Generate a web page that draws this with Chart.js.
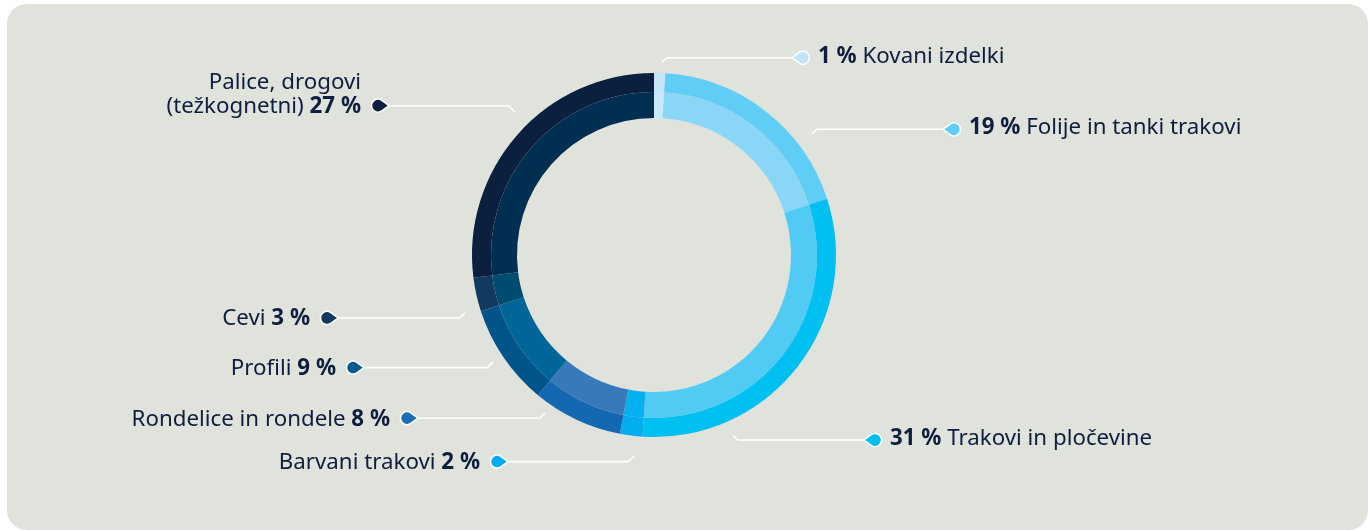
<!DOCTYPE html>
<html>
<head>
<meta charset="utf-8">
<script src="https://cdn.jsdelivr.net/npm/chart.js@4"></script>
<style>
    html, body { margin: 0; padding: 0; background: #ffffff; }
    body { width: 1368px; height: 530px; position: relative; overflow: hidden; }
    .panel { position: absolute; left: 7px; top: 4px; width: 1361px; height: 526px; background: #e0e2dc; border-radius: 20px; }
    .wrap { position: absolute; left: 0; top: 0; width: 1368px; height: 530px; }
</style>
</head>
<body>
<div class="panel"></div>
<div class="wrap"><canvas id="kolobar" width="1368" height="530"></canvas></div>
<script>
// deleži prodaje po skupinah izdelkov (v %)
const kategorije = ['Kovani izdelki', 'Folije in tanki trakovi', 'Trakovi in pločevine', 'Barvani trakovi',
    'Rondelice in rondele', 'Profili', 'Cevi', 'Palice, drogovi (težkognetni)'];
const delezi = [1, 19, 31, 2, 8, 9, 3, 27];

// besedilo napisov (zadnja vrstica dobi še odstotek)
const napisi = [
    ['Kovani izdelki'],
    ['Folije in tanki trakovi'],
    ['Trakovi in pločevine'],
    ['Barvani trakovi'],
    ['Rondelice in rondele'],
    ['Profili'],
    ['Cevi'],
    ['Palice, drogovi', '(težkognetni)']
];

const barveZunaj = ['#c4e6f7', '#5fcdf6', '#00c0f2', '#00aeef', '#1468b1', '#00548a', '#12395e', '#0b1f3f'];
const barveZnotraj = ['#c9e8f8', '#8ad6f7', '#52cbf4', '#05b0ee', '#3779b9', '#006699', '#004c70', '#002f52'];
const barveOznak = ['#bfe5f7', '#5fcdf6', '#00bff0', '#00aeef', '#1a6eb5', '#005a8f', '#123a5f', '#0b1f3f'];

// postavitev napisov: kot (od vrha, v smeri urinega kazalca), odmik od kolobarja, višina črte, sredina oznake
const postavitev = [
    { kot: 2.3,   odmik: 10.6, crtaY: 57.7,  oznakaX: 803, desno: true },
    { kot: 52.6,  odmik: 16.4, crtaY: 129.3, oznakaX: 954, desno: true },
    { kot: 156.3, odmik: 14.8, crtaY: 440,   oznakaX: 875, desno: true },
    { kot: 185.7, odmik: 20,   crtaY: 461.6, oznakaX: 497, desno: false },
    { kot: 214.6, odmik: 10,   crtaY: 418.2, oznakaX: 407, desno: false },
    { kot: 236.4, odmik: 11.6, crtaY: 367.6, oznakaX: 353, desno: false },
    { kot: 253,   odmik: 15.7, crtaY: 318,   oznakaX: 327, desno: false },
    { kot: 315.8, odmik: 17.4, crtaY: 105.7, oznakaX: 378, desno: false }
];

const PISAVA = '22.3px "Noto Sans"';
const PISAVA_B = '700 22.3px "Noto Sans"';
const BARVA_TEKSTA = '#0e1e3e';

function narisiKapljico(ctx, x, y, smer, barva) {
    // kapljica: krog s konico proti črti
    const r = 6.5, d = 11;
    const kot = smer > 0 ? Math.PI : 0; // smer konice
    const a = Math.acos(r / d);
    ctx.beginPath();
    ctx.moveTo(x + Math.cos(kot) * d, y);
    ctx.arc(x, y, r, kot + a, kot - a + Math.PI * 2, false);
    ctx.closePath();
    ctx.fillStyle = barva;
    ctx.fill();
    ctx.lineWidth = 1.5;
    ctx.strokeStyle = '#ffffff';
    ctx.stroke();
}

function narisiVrstico(ctx, deli, x, y, desnoPoravnano) {
    let sirina = 0;
    deli.forEach(d => { ctx.font = d.b ? PISAVA_B : PISAVA; d.w = ctx.measureText(d.t).width; sirina += d.w; });
    let zx = desnoPoravnano ? x - sirina : x;
    deli.forEach(d => {
        ctx.font = d.b ? PISAVA_B : PISAVA;
        ctx.fillText(d.t, zx, y);
        zx += d.w;
    });
}

const napisiPlugin = {
    id: 'napisi',
    afterDraw(chart) {
        const ctx = chart.ctx;
        const lok = chart.getDatasetMeta(0).data[0];
        const cx = lok.x, cy = lok.y, R = lok.outerRadius;
        ctx.save();
        ctx.textBaseline = 'middle';
        ctx.fillStyle = BARVA_TEKSTA;
        postavitev.forEach((p, i) => {
            const s = p.desno ? 1 : -1;
            const kot = p.kot * Math.PI / 180;
            const zx = cx + Math.sin(kot) * (R + p.odmik);
            const zy = cy - Math.cos(kot) * (R + p.odmik);
            const kolenoX = zx + s * Math.abs(p.crtaY - zy);
            const konecX = p.oznakaX - s * 11;

            ctx.beginPath();
            ctx.moveTo(zx, zy);
            ctx.lineTo(kolenoX, p.crtaY);
            ctx.lineTo(konecX, p.crtaY);
            ctx.lineWidth = 1.6;
            ctx.strokeStyle = '#ffffff';
            ctx.stroke();

            narisiKapljico(ctx, p.oznakaX, p.crtaY, s, barveOznak[i]);

            const odst = delezi[i] + ' %';
            const vrstice = napisi[i];
            ctx.fillStyle = BARVA_TEKSTA;
            if (p.desno) {
                const tx = p.oznakaX + 15;
                narisiVrstico(ctx, [{ t: odst + ' ', b: true }, { t: vrstice[0], b: false }], tx, p.crtaY - 1.5, false);
            } else {
                const tx = p.oznakaX - 17;
                const n = vrstice.length;
                vrstice.forEach((v, j) => {
                    const y = p.crtaY + 1 - (n - 1 - j) * 24;
                    const deli = j === n - 1 ? [{ t: v + ' ', b: false }, { t: odst, b: true }] : [{ t: v, b: false }];
                    narisiVrstico(ctx, deli, tx, y, true);
                });
            }
        });
        ctx.restore();
    }
};

const ctx = document.getElementById('kolobar').getContext('2d');
new Chart(ctx, {
    type: 'doughnut',
    data: {
        labels: kategorije,
        datasets: [{
            data: delezi,
            backgroundColor: barveZunaj,
            borderWidth: 0,
            weight: 19
        }, {
            data: delezi,
            backgroundColor: barveZnotraj,
            borderWidth: 0,
            weight: 26
        }]
    },
    options: {
        responsive: false,
        animation: false,
        events: [],
        cutout: '75.27%',
        layout: { padding: { top: 73, bottom: 93, left: 0, right: 60 } },
        plugins: {
            legend: { display: false },
            tooltip: { enabled: false }
        }
    },
    plugins: [napisiPlugin]
});
</script>
</body>
</html>
